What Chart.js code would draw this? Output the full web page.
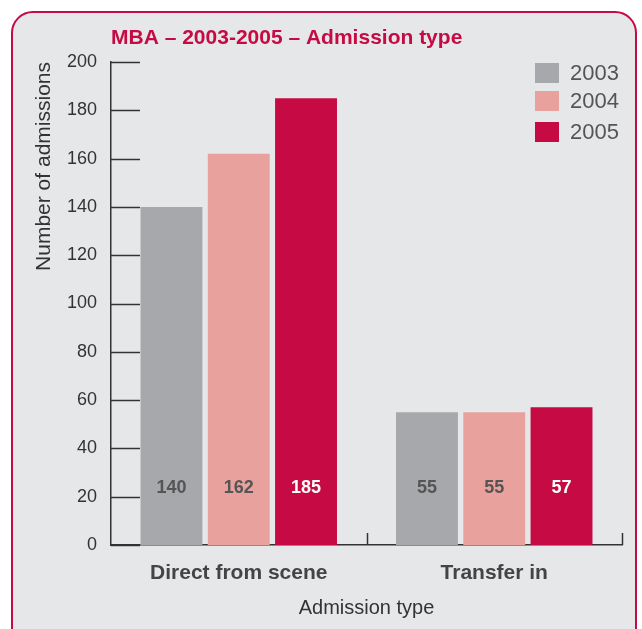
<!DOCTYPE html>
<html>
<head>
<meta charset="utf-8">
<script src="https://cdn.jsdelivr.net/npm/chart.js@4"></script>
<style>
  html, body { margin: 0; padding: 0; background: #ffffff; width: 642px; height: 629px; overflow: hidden; }
  #panel { position: absolute; left: 11px; top: 11px; width: 622px; height: 660px; border: 2px solid #c60a43; border-radius: 22px; background: #e6e7e9; }
  #wrap { position: absolute; left: 0; top: 0; width: 642px; height: 629px; }
</style>
</head>
<body>
<div id="panel"></div>
<div id="wrap"><canvas id="c" width="642" height="629"></canvas></div>
<script>
const categories = ["Direct from scene", "Transfer in"];
const seriesLabels = ["2003", "2004", "2005"];
const values2003 = [140, 55];
const values2004 = [162, 55];
const values2005 = [185, 57];
const yTicks = [0, 20, 40, 60, 80, 100, 120, 140, 160, 180, 200];
const chartTitle = "MBA – 2003-2005 – Admission type";
const xTitle = "Admission type";
const yTitle = "Number of admissions";

const colors = ["#a7a8ab", "#e8a19d", "#c60a43"];
const labelColors = ["#555555", "#555555", "#ffffff"];
const FONT = "'Liberation Sans', Arial, sans-serif";

const extras = {
  id: 'extras',
  afterDraw(chart) {
    const ctx = chart.ctx;
    const ys = chart.scales.y, xs = chart.scales.x;
    const area = chart.chartArea;
    ctx.save();
    // y tick marks inside
    ctx.strokeStyle = '#333333';
    ctx.lineWidth = 1.5;
    yTicks.forEach(v => {
      const py = Math.round(ys.getPixelForValue(v)) + 0.5;
      ctx.beginPath();
      ctx.moveTo(area.left, py);
      ctx.lineTo(area.left + 29, py);
      ctx.stroke();
    });
    // x category dividers
    for (let i = 0; i < categories.length; i++) {
      const px = Math.round(xs.getPixelForValue(i) + (xs.getPixelForValue(1) - xs.getPixelForValue(0)) / 2) + 0.5;
      ctx.beginPath();
      ctx.moveTo(px, area.bottom);
      ctx.lineTo(px, area.bottom - 12);
      ctx.stroke();
    }
    // value labels inside bars
    ctx.font = "bold 18px " + FONT;
    ctx.textAlign = 'center';
    ctx.textBaseline = 'middle';
    const labelY = ys.getPixelForValue(23.5);
    chart.data.datasets.forEach((ds, di) => {
      const meta = chart.getDatasetMeta(di);
      meta.data.forEach((bar, i) => {
        ctx.fillStyle = labelColors[di];
        ctx.fillText(String(ds.data[i]), bar.x, labelY);
      });
    });
    // title
    ctx.font = "bold 21px " + FONT;
    ctx.fillStyle = '#c60a43';
    ctx.textAlign = 'left';
    ctx.fillText(chartTitle, area.left, 38);
    // legend
    ctx.font = "22px " + FONT;
    const legY = [73, 101, 132];
    chart.data.datasets.forEach((ds, di) => {
      ctx.fillStyle = ds.backgroundColor;
      ctx.fillRect(535, legY[di] - 10, 24, 20);
      ctx.fillStyle = '#555555';
      ctx.textAlign = 'left';
      ctx.fillText(ds.label, 570, legY[di] + 1);
    });
    ctx.restore();
  }
};

new Chart(document.getElementById('c'), {
  type: 'bar',
  data: {
    labels: categories,
    datasets: [
      { label: seriesLabels[0], data: values2003, backgroundColor: colors[0] },
      { label: seriesLabels[1], data: values2004, backgroundColor: colors[1] },
      { label: seriesLabels[2], data: values2005, backgroundColor: colors[2] }
    ]
  },
  options: {
    responsive: false,
    animation: false,
    devicePixelRatio: 1,
    layout: { padding: { left: 0, top: 62, right: 20, bottom: 0 } },
    datasets: { bar: { categoryPercentage: 0.79, barPercentage: 0.92 } },
    plugins: { legend: { display: false }, title: { display: false }, tooltip: { enabled: false } },
    scales: {
      x: {
        grid: { display: false, drawTicks: false },
        border: { display: true, color: '#333333', width: 1.5 },
        ticks: { color: '#444444', font: { family: FONT, size: 21, weight: 'bold' }, padding: 16 },
        title: { display: true, text: xTitle, color: '#333333', font: { family: FONT, size: 20 }, padding: { top: 0, bottom: 9 } },
        afterFit(s) { s.height = 84; }
      },
      y: {
        min: 0, max: 200,
        afterBuildTicks(s) { s.ticks = yTicks.map(v => ({ value: v })); },
        grid: { display: false, drawTicks: false },
        border: { display: true, color: '#333333', width: 1.5 },
        ticks: { color: '#333333', font: { family: FONT, size: 18 }, padding: 14 },
        title: { display: true, text: yTitle, align: 'end', color: '#333333', font: { family: FONT, size: 21 }, padding: { top: 32, bottom: 0 } },
        afterFit(s) { s.width = 111; }
      }
    }
  },
  plugins: [extras]
});
</script>
</body>
</html>
